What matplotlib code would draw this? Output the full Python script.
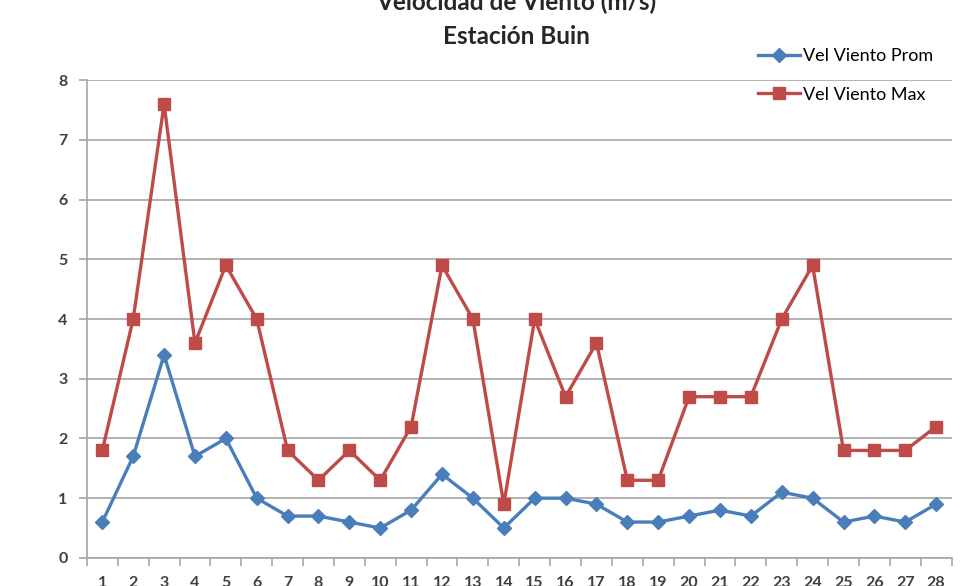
"""Velocidad de viento, Estación Buin: promedio y máximo diario."""
import matplotlib
matplotlib.use("Agg")
import matplotlib.pyplot as plt
from matplotlib.ticker import FixedLocator

plt.rcParams["font.family"] = ["Lato", "DejaVu Sans"]

DAYS = list(range(1, 29))
VEL_PROM = [0.6, 1.7, 3.4, 1.7, 2.0, 1.0, 0.7, 0.7, 0.6, 0.5, 0.8, 1.4, 1.0, 0.5,
            1.0, 1.0, 0.9, 0.6, 0.6, 0.7, 0.8, 0.7, 1.1, 1.0, 0.6, 0.7, 0.6, 0.9]
VEL_MAX = [1.8, 4.0, 7.6, 3.6, 4.9, 4.0, 1.8, 1.3, 1.8, 1.3, 2.2, 4.9, 4.0, 0.9,
           4.0, 2.7, 3.6, 1.3, 1.3, 2.7, 2.7, 2.7, 4.0, 4.9, 1.8, 1.8, 1.8, 2.2]
Y_TICKS = [0, 1, 2, 3, 4, 5, 6, 7, 8]

BLUE = "#4a7ebb"
RED = "#be4b48"
GRID = "#a6a6a6"


def main() -> None:
    fig = plt.figure(figsize=(9.76, 5.86), dpi=100)
    ax = fig.add_axes([0.089, 0.048, 0.886, 0.815])

    ax.plot(DAYS, VEL_PROM, "-D", color=BLUE, lw=2.4, markersize=7,
            label="Vel Viento Prom", zorder=3)
    ax.plot(DAYS, VEL_MAX, "-s", color=RED, lw=2.4, markersize=8,
            label="Vel Viento Max", zorder=3)

    ax.set_xlim(0.5, 28.5)
    ax.set_ylim(0, 8)
    ax.set_yticks(Y_TICKS)
    ax.set_xticks(DAYS)
    ax.xaxis.set_minor_locator(FixedLocator([d + 0.5 for d in range(0, 29)]))
    ax.tick_params(axis="x", which="major", length=0, pad=13, labelsize=11.5,
                   labelcolor="#404040")
    ax.tick_params(axis="x", which="minor", length=6, width=1.2, color=GRID,
                   direction="out")
    ax.tick_params(axis="y", length=6, width=1.2, color=GRID, pad=8,
                   labelsize=11.5, labelcolor="#404040")
    for lbl in ax.get_xticklabels() + ax.get_yticklabels():
        lbl.set_fontweight("bold")

    ax.grid(axis="y", color=GRID, lw=1.2, zorder=0)
    for side in ["top", "right"]:
        ax.spines[side].set_visible(False)
    for side in ["left", "bottom"]:
        ax.spines[side].set_color(GRID)
        ax.spines[side].set_linewidth(1.2)

    fig.text(0.529, 1 - 2 / 586, "Velocidad de Viento (m/s)", ha="center",
             va="center", fontsize=17.5, fontweight="bold", color="#262626")
    fig.text(0.529, 1 - 36 / 586, "Estación Buin", ha="center", va="center",
             fontsize=17.5, fontweight="bold", color="#262626")

    fig.legend(loc="upper left", bbox_to_anchor=(758 / 976, 1 - 48 / 586),
               frameon=False, fontsize=13, handlelength=2.3, handletextpad=0.2,
               labelspacing=1.25, borderaxespad=0, borderpad=0)

    fig.savefig("out.png", dpi=100)
    plt.close(fig)


if __name__ == "__main__":
    main()
